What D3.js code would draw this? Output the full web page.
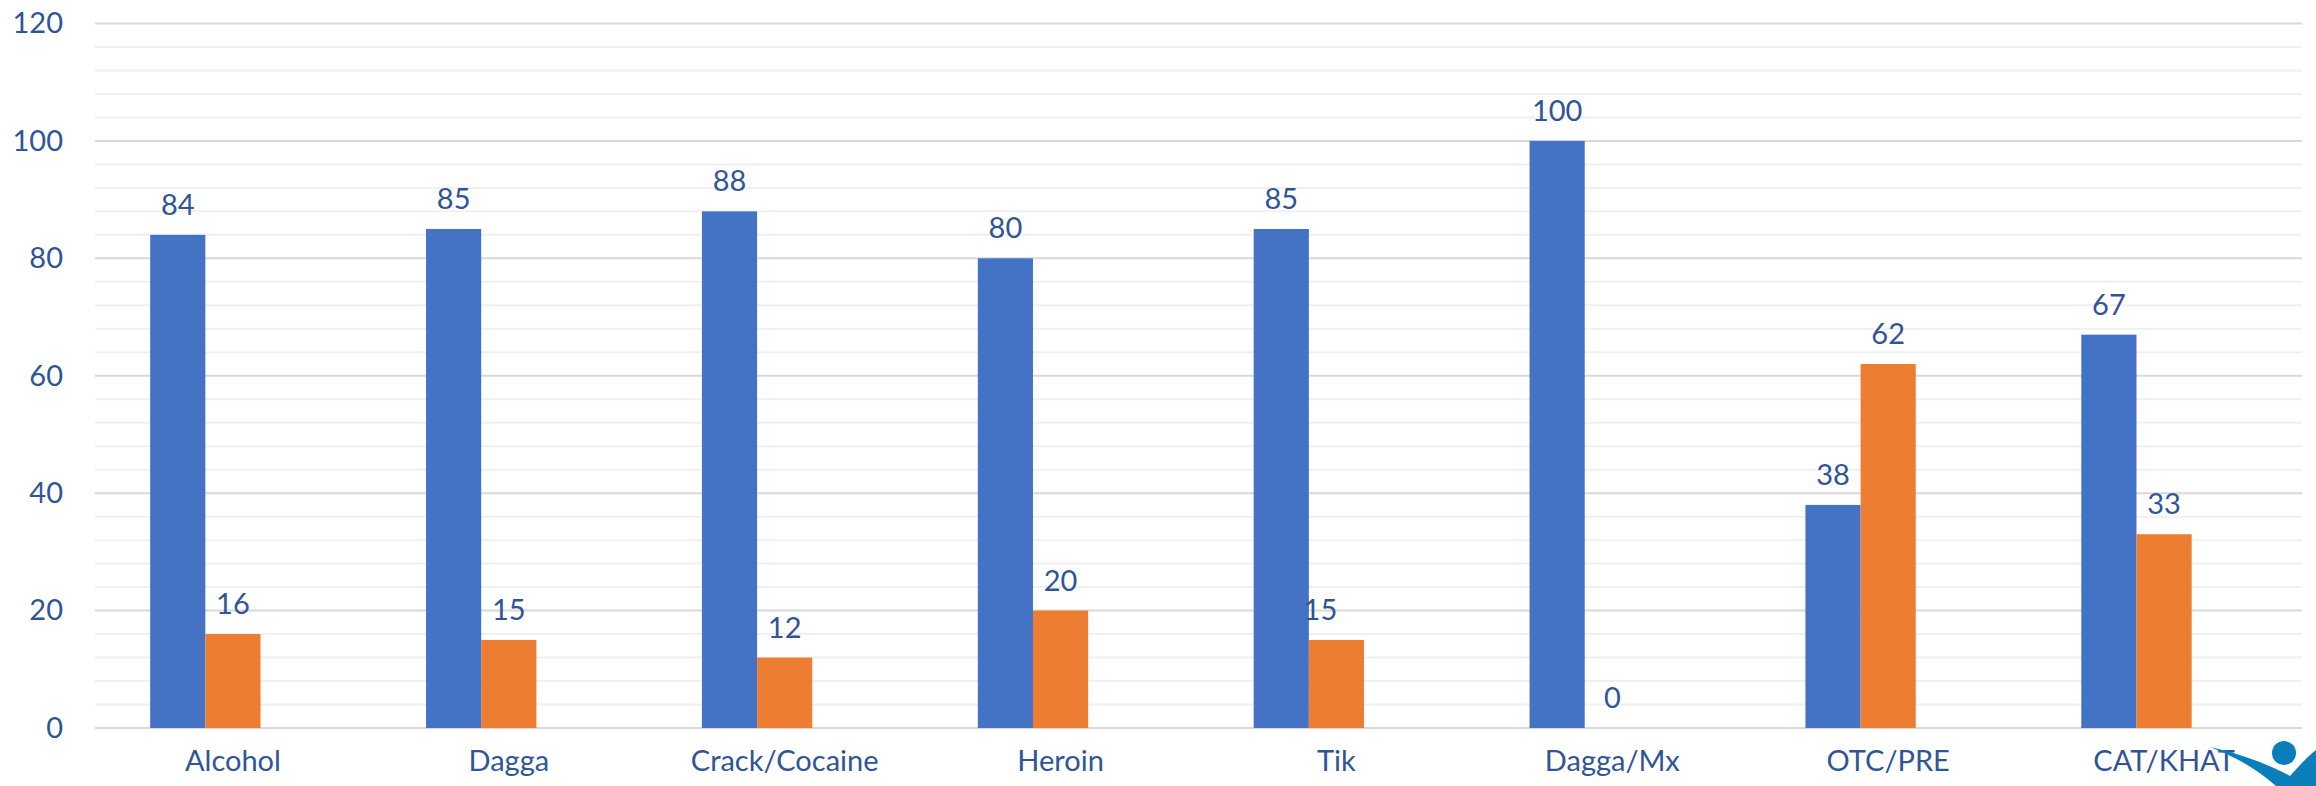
<!DOCTYPE html>
<html>
<head>
<meta charset="utf-8">
<script src="https://cdn.jsdelivr.net/npm/d3@7/dist/d3.min.js"></script>
<style>
  html, body { margin: 0; padding: 0; background: #ffffff; }
  svg { display: block; }
  text { font-family: Lato, "Open Sans", sans-serif; fill: #2F5597; }
</style>
</head>
<body>
<svg id="chart" width="2316" height="786"></svg>
<script>
const categories = ["Alcohol", "Dagga", "Crack/Cocaine", "Heroin", "Tik", "Dagga/Mx", "OTC/PRE", "CAT/KHAT"];
const seriesA = [84, 85, 88, 80, 85, 100, 38, 67];
const seriesB = [16, 15, 12, 20, 15, 0, 62, 33];
const yTicks = [0, 20, 40, 60, 80, 100, 120];
const yMinorStep = 4;

const W = 2316, H = 786;
const margin = { left: 95, right: 14, top: 23.5, bottom: 58 };
const FS = 29;
const svg = d3.select("#chart");

const x0 = d3.scaleBand()
  .domain(categories)
  .range([margin.left, W - margin.right])
  .paddingInner(0.4)
  .paddingOuter(0.2);
const x1 = d3.scaleBand()
  .domain(["A", "B", "C"])
  .range([0, x0.bandwidth()]);
const y = d3.scaleLinear()
  .domain([0, 120])
  .range([H - margin.bottom, margin.top]);

// minor gridlines
const minor = d3.range(0, 120 + 0.001, yMinorStep).filter(v => v % 20 !== 0);
svg.append("g").selectAll("line").data(minor).join("line")
  .attr("x1", margin.left).attr("x2", W - margin.right)
  .attr("y1", d => y(d)).attr("y2", d => y(d))
  .attr("stroke", "#f0f0f0").attr("stroke-width", 2);

// major gridlines
svg.append("g").selectAll("line").data(yTicks).join("line")
  .attr("x1", margin.left).attr("x2", W - margin.right)
  .attr("y1", d => y(d)).attr("y2", d => y(d))
  .attr("stroke", "#d9d9d9").attr("stroke-width", 2);

// y axis labels
const yAxis = d3.axisLeft(y).tickValues(yTicks).tickSize(0).tickPadding(32);
const gy = svg.append("g").attr("transform", `translate(${margin.left},0)`).call(yAxis);
gy.select(".domain").remove();
gy.selectAll("text").attr("font-size", FS).style("font-family", "Lato, sans-serif").attr("fill", "#2F5597");

// bars
const rows = categories.map((c, i) => ({ c, a: seriesA[i], b: seriesB[i] }));
const g = svg.append("g");
g.selectAll("rect.a").data(rows).join("rect")
  .attr("class", "a")
  .attr("x", d => x0(d.c) + x1("A"))
  .attr("width", x1.bandwidth())
  .attr("y", d => y(d.a))
  .attr("height", d => y(0) - y(d.a))
  .attr("fill", "#4472C4");
g.selectAll("rect.b").data(rows).join("rect")
  .attr("class", "b")
  .attr("x", d => x0(d.c) + x1("B"))
  .attr("width", x1.bandwidth())
  .attr("y", d => y(d.b))
  .attr("height", d => y(0) - y(d.b))
  .attr("fill", "#ED7D31");

// data labels
g.selectAll("text.la").data(rows).join("text")
  .attr("class", "la")
  .attr("x", d => x0(d.c) + x1("A") + x1.bandwidth() / 2)
  .attr("y", d => y(d.a) - 20)
  .attr("text-anchor", "middle")
  .attr("font-size", FS)
  .text(d => d.a);
g.selectAll("text.lb").data(rows).join("text")
  .attr("class", "lb")
  .attr("x", d => x0(d.c) + x1("B") + x1.bandwidth() / 2 + (d.c === "Tik" ? -16 : 0))
  .attr("y", d => y(d.b) - 20)
  .attr("text-anchor", "middle")
  .attr("font-size", FS)
  .text(d => d.b);

// x axis labels
const xAxis = d3.axisBottom(x0).tickSize(0).tickPadding(22);
const gx = svg.append("g").attr("transform", `translate(0,${y(0)})`).call(xAxis);
gx.select(".domain").remove();
gx.selectAll("text").attr("font-size", FS).style("font-family", "Lato, sans-serif").attr("fill", "#2F5597");

// partial logo in the bottom-right corner
const logo = svg.append("g");
logo.append("path")
  .attr("d", "M2210,747 C2242,754 2272,766 2290,776 C2298,767 2306,758 2316,750 L2316,786 L2276,786 C2258,770 2238,758 2210,747 Z")
  .attr("fill", "#0A7DBB");
logo.append("circle").attr("cx", 2284).attr("cy", 753).attr("r", 12).attr("fill", "#0A7DBB");
</script>
</body>
</html>
